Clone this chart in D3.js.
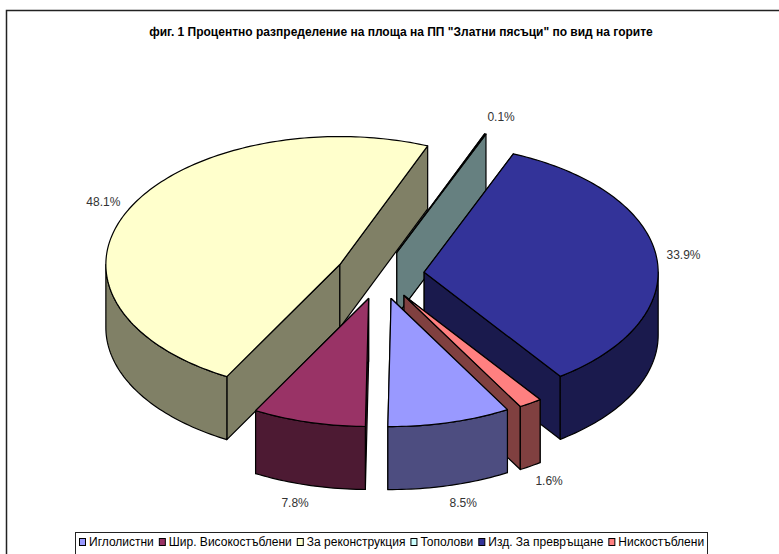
<!DOCTYPE html>
<html><head><meta charset="utf-8">
<script src="https://cdn.jsdelivr.net/npm/d3@7"></script>
<style>html,body{margin:0;padding:0;background:#fff;overflow:hidden}svg{display:block}text{font-family:"Liberation Sans",Arial,sans-serif}</style>
</head><body><div id="c"></div>
<script>
const titleText = 'фиг. 1 Процентно разпределение на площа на ПП "Златни пясъци" по вид на горите';
const categories = ["Иглолистни","Шир. Високостъблени","За реконструкция","Тополови","Изд. За превръщане","Нискостъблени"];
const values = [8.5,7.8,48.1,0.1,33.9,1.6];
const topColors = ["#9999FF","#993366","#FFFFCC","#CCFFFF","#333399","#FF8080"];
const sideColors = ["#4D4D80","#4D1A33","#808066","#668080","#1A1A4D","#804040"];
const drawOrder = [2,3,4,1,5,0];

const W=779,H=554,cx=380,cy=275,rx=234,ry=128,depth=63,explode=0.19;
const TAU=Math.PI*2, start=150.2/360*TAU;
const sx=d3.scaleLinear().domain([-1,1]).range([cx-rx,cx+rx]);
const sy=d3.scaleLinear().domain([-1,1]).range([cy-ry,cy+ry]);
const arcs=d3.pie().value(d=>d).sort(null).startAngle(start).endAngle(start+TAU)(values);
const svg=d3.select("#c").append("svg").attr("width",W).attr("height",H);
svg.append("rect").attr("width",W).attr("height",H).attr("fill","#fff");
svg.append("rect").attr("x",6.5).attr("y",10.5).attr("width",W+20).attr("height",H+20).attr("fill","none").attr("stroke","#222").attr("stroke-width",1.5);
svg.append("text").attr("x",401).attr("y",36).attr("text-anchor","middle").attr("font-size",12).attr("font-weight","bold").attr("fill","#000").text(titleText);

const line=d3.line();
function geom(a){
  const mid=(a.startAngle+a.endAngle)/2;
  const ox=explode*Math.sin(mid), oy=-explode*Math.cos(mid);
  const P=(t,r=1,z=0)=>[sx(ox+r*Math.sin(t)),sy(oy-r*Math.cos(t))+z];
  return {mid,P};
}
function arcPts(P,t0,t1,z){
  const n=Math.max(2,Math.ceil((t1-t0)/0.02));
  return d3.range(n+1).map(i=>P(t0+(t1-t0)*i/n,1,z));
}
const g=svg.append("g").attr("stroke","#000").attr("stroke-width",1.2).attr("stroke-linejoin","round");
drawOrder.forEach(i=>{
  const a=arcs[i],{P}=geom(a),t0=a.startAngle,t1=a.endAngle,top=topColors[i],side=sideColors[i];
  const quad=t=>[P(t,0),P(t),P(t,1,depth),P(t,0,depth)];
  g.append("path").attr("d",line(quad(t0))+"Z").attr("fill",side);
  g.append("path").attr("d",line(quad(t1))+"Z").attr("fill",side);
  [[Math.PI/2,Math.PI*1.5],[Math.PI/2+TAU,Math.PI*1.5+TAU]].forEach(([f0,f1])=>{
    const w0=Math.max(t0,f0),w1=Math.min(t1,f1);
    if(w1>w0){
      const pts=arcPts(P,w0,w1,0).concat(arcPts(P,w0,w1,depth).reverse());
      g.append("path").attr("d",line(pts)+"Z").attr("fill",side);
    }
  });
  g.append("path").attr("d",line([P(t0,0)].concat(arcPts(P,t0,t1,0)))+"Z").attr("fill",top);
});
arcs.forEach((a,i)=>{
  const {mid,P}=geom(a),s=Math.sin(mid),c=Math.cos(mid),p=P(mid,1,c<0?depth:0);
  svg.append("text").attr("x",p[0]+Math.sign(s)*9+18*s).attr("y",p[1]-18*c+4).attr("text-anchor","middle").attr("font-size",12).attr("fill","#333").text(d3.format(".1f")(values[i])+"%");
});
const lg=svg.append("g");
lg.append("rect").attr("x",75.5).attr("y",532.5).attr("width",632).attr("height",40).attr("fill","#fff").attr("stroke","#222");
let x=79;
categories.forEach((c,i)=>{
  lg.append("rect").attr("x",x+.5).attr("y",538.5).attr("width",6).attr("height",7).attr("fill",topColors[i]).attr("stroke","#000");
  const t=lg.append("text").attr("x",x+10).attr("y",546).attr("font-size",12).attr("fill","#000").text(c);
  x+=10+t.node().getComputedTextLength()+5;
});
</script></body></html>
